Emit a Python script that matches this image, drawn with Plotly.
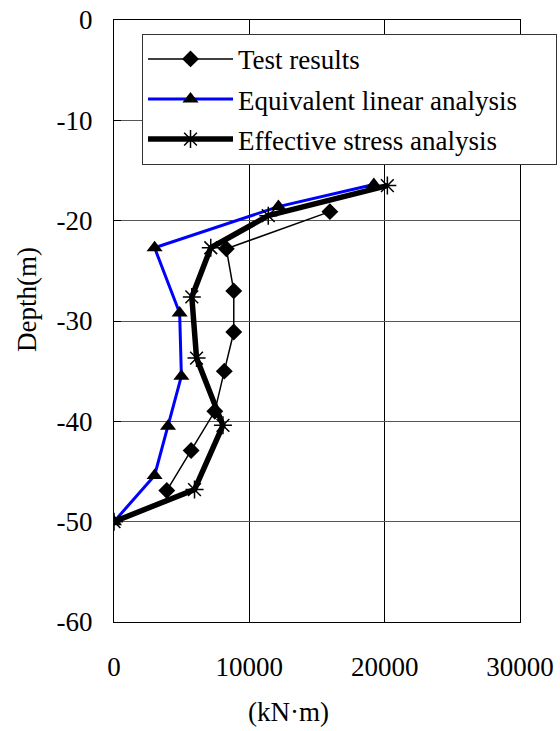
import plotly.graph_objects as go

# Bending moment profiles along the pile (kN·m) versus depth (m)
test_moment = [15950, 8300, 8850, 8850, 8150, 7450, 5700, 3900]
test_depth = [-19.1, -22.8, -27.0, -31.1, -35.0, -39.0, -42.9, -46.9]

linear_moment = [19200, 12150, 3000, 4850, 4980, 3990, 3000, 0]
linear_depth = [-16.4, -18.6, -22.7, -29.2, -35.5, -40.5, -45.4, -50.0]

effective_moment = [20200, 11400, 7150, 5750, 6100, 8050, 5950, 0]
effective_depth = [-16.5, -19.5, -22.7, -27.6, -33.7, -40.4, -46.8, -50.0]

x_ticks = [0, 10000, 20000, 30000]
x_ticktext = ["0", "10000", "20000", "30000"]
y_ticks = [0, -10, -20, -30, -40, -50, -60]
y_ticktext = ["0", "-10", "-20", "-30", "-40", "-50", "-60"]

FONT = "Liberation Serif"
PAD = "\u00a0" * 5  # extra room on the right side of the legend box

fig = go.Figure()
fig.add_trace(go.Scatter(
    x=test_moment, y=test_depth, mode="lines+markers", name="Test results",
    legendgroup="a",
    line=dict(color="black", width=1.5),
    marker=dict(symbol="diamond", size=13, color="black"),
))
fig.add_trace(go.Scatter(
    x=linear_moment, y=linear_depth, mode="lines+markers",
    name="Equivalent linear analysis" + PAD, legendgroup="b",
    line=dict(color="#0000FF", width=3),
    marker=dict(symbol="triangle-up", size=14, color="black"),
))
fig.add_trace(go.Scatter(
    x=effective_moment, y=effective_depth, mode="lines+markers",
    name="Effective stress analysis", legendgroup="c",
    line=dict(color="black", width=5.5),
    marker=dict(symbol="asterisk-open", size=15,
                line=dict(color="black", width=1.5)),
))

fig.update_layout(
    width=560, height=731,
    margin=dict(l=114, r=40, t=20, b=109, autoexpand=False),
    paper_bgcolor="white", plot_bgcolor="white",
    font=dict(family=FONT, size=27, color="black"),
    showlegend=True,
    legend=dict(
        x=0.069, y=0.977, xanchor="left", yanchor="top",
        bgcolor="white", bordercolor="#333333", borderwidth=1,
        font=dict(family=FONT, size=27, color="black"),
        tracegroupgap=2, itemwidth=85,
    ),
)
fig.update_xaxes(
    range=[0, 30000], tickvals=x_ticks, ticktext=x_ticktext,
    showgrid=True, gridcolor="black", gridwidth=1,
    showline=True, linecolor="black", linewidth=1, mirror=True,
    ticks="inside", ticklen=7, tickcolor="black",
    ticklabelstandoff=21, zeroline=False, automargin=False,
)
fig.update_yaxes(
    range=[-60, 0], tickvals=y_ticks, ticktext=y_ticktext,
    showgrid=True, gridcolor="#555555", gridwidth=1,
    showline=True, linecolor="black", linewidth=1, mirror=True,
    ticks="inside", ticklen=7, tickcolor="black",
    ticklabelstandoff=15, zeroline=False, automargin=False,
)

fig.add_annotation(
    text="(kN·m)", xref="paper", yref="paper", x=0.431, y=-0.149,
    xanchor="center", yanchor="middle", showarrow=False,
    font=dict(family=FONT, size=27, color="black"),
)
fig.add_annotation(
    text="Depth(m)", xref="paper", yref="paper", x=-0.214, y=0.535,
    xanchor="center", yanchor="middle", showarrow=False, textangle=-90,
    font=dict(family=FONT, size=27, color="black"),
)

fig.write_html("out.html")
